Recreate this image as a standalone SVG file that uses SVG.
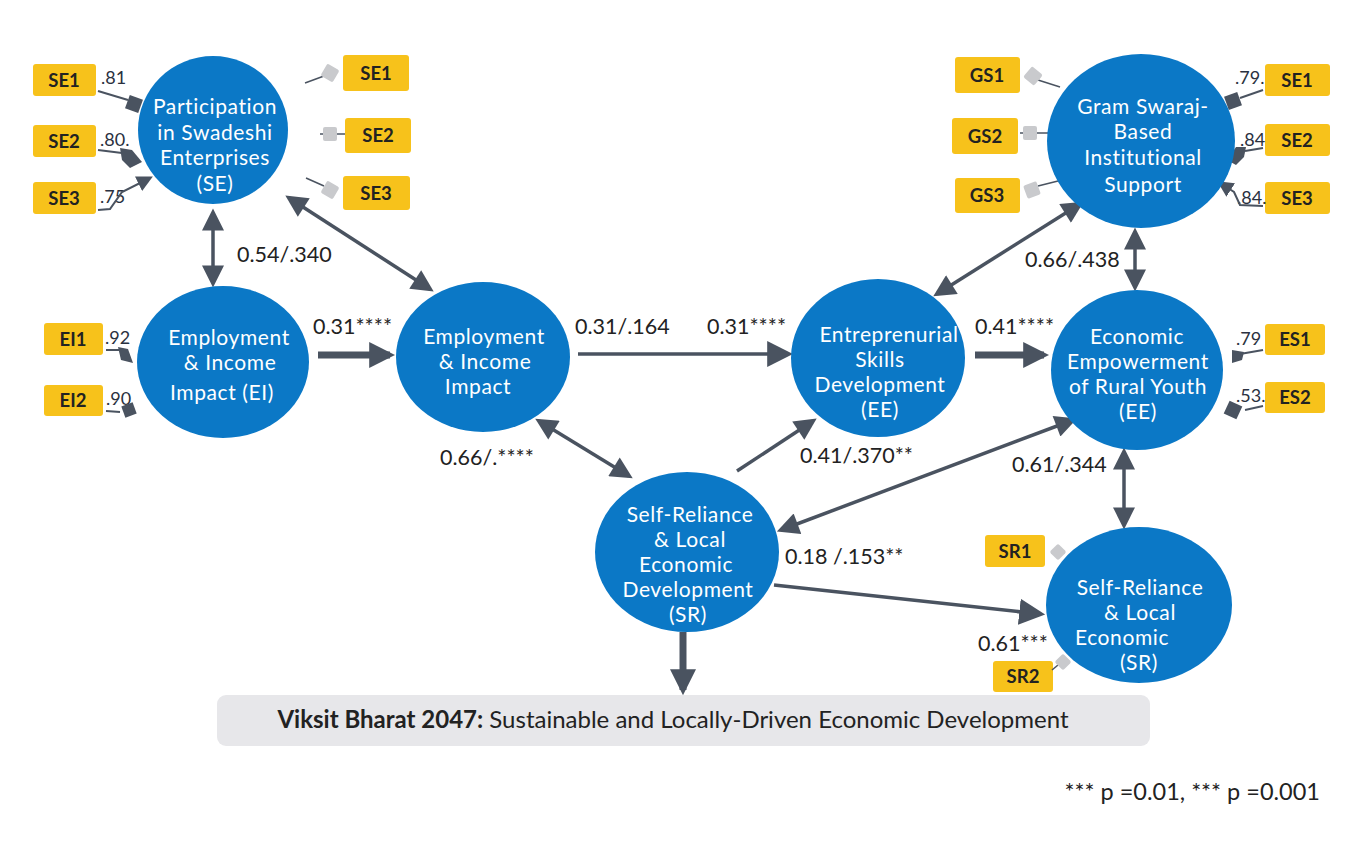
<svg xmlns="http://www.w3.org/2000/svg" width="1363" height="847" viewBox="0 0 1363 847">
<defs>
<style>
.node{fill:#0b78c6}
.nt{font-family:Lato,"Open Sans","Liberation Sans",sans-serif;font-size:21px;letter-spacing:0.6px;fill:#fff;text-anchor:middle}
.box{fill:#f7c21b;rx:3}
.bt{font-family:Lato,"Open Sans","Liberation Sans",sans-serif;font-size:18.5px;font-weight:700;fill:#222;text-anchor:middle}
.ld{font-family:Lato,"Open Sans","Liberation Sans",sans-serif;font-size:18px;fill:#2a3140}
.lb{font-family:Lato,"Open Sans","Liberation Sans",sans-serif;font-size:21.5px;fill:#222}
.a{stroke:#4a5360;stroke-width:3.5;fill:none}
.ta{stroke:#4a5360;stroke-width:7;fill:none}
.ind{stroke:#4a5360;stroke-width:2;fill:none}
.indg{stroke:#4a5360;stroke-width:1.5;fill:none}
.dk{fill:#4a5360}
.lg{fill:#c9cacd}
</style>
<marker id="ah" viewBox="0 0 10 10" refX="8" refY="5" markerWidth="24" markerHeight="22" markerUnits="userSpaceOnUse" orient="auto-start-reverse">
<path d="M0,0 L10,5 L0,10 z" fill="#4a5360"/>
</marker>
<marker id="ahT" viewBox="0 0 10 10" refX="8" refY="5" markerWidth="26" markerHeight="28" markerUnits="userSpaceOnUse" orient="auto-start-reverse">
<path d="M0,0 L10,5 L0,10 z" fill="#4a5360"/>
</marker>
<marker id="ahS" viewBox="0 0 10 10" refX="8" refY="5" markerWidth="16" markerHeight="16" markerUnits="userSpaceOnUse" orient="auto">
<path d="M0,0 L10,5 L0,10 z" fill="#4a5360"/>
</marker>
</defs>
<rect width="1363" height="847" fill="#fff"/>

<g id="connectors">
<line class="a" x1="213" y1="213" x2="213" y2="283" marker-start="url(#ah)" marker-end="url(#ah)"/>
<line class="a" x1="289" y1="198" x2="430" y2="289" marker-start="url(#ah)" marker-end="url(#ah)"/>
<line class="ta" x1="318" y1="355" x2="390" y2="355" marker-end="url(#ahT)"/>
<line class="a" x1="578" y1="354" x2="788" y2="354" marker-end="url(#ahT)"/>
<line class="a" x1="539" y1="421" x2="629" y2="476" marker-start="url(#ah)" marker-end="url(#ah)"/>
<line class="a" x1="737" y1="471" x2="813" y2="421" marker-end="url(#ah)"/>
<line class="a" x1="937" y1="294" x2="1080" y2="204" marker-start="url(#ah)" marker-end="url(#ah)"/>
<line class="ta" x1="975" y1="355" x2="1044" y2="355" marker-end="url(#ahT)"/>
<line class="a" x1="1135" y1="232" x2="1135" y2="287" marker-start="url(#ah)" marker-end="url(#ah)"/>
<line class="a" x1="1073" y1="420" x2="781" y2="530" marker-start="url(#ah)" marker-end="url(#ah)"/>
<line class="a" x1="1124" y1="452" x2="1124" y2="525" marker-start="url(#ah)" marker-end="url(#ah)"/>
<line class="a" x1="774" y1="585" x2="1040" y2="614" marker-end="url(#ahT)"/>
<line class="ta" x1="683" y1="632" x2="683" y2="690" marker-end="url(#ahT)"/>
</g>

<g id="labels">
<text class="lb" x="237" y="262">0.54/.340</text>
<text class="lb" x="313" y="334">0.31****</text>
<text class="lb" x="575" y="334">0.31/.164</text>
<text class="lb" x="707" y="334">0.31****</text>
<text class="lb" x="975" y="334">0.41****</text>
<text class="lb" x="1025" y="267">0.66/.438</text>
<text class="lb" x="440" y="465">0.66/.****</text>
<text class="lb" x="800" y="463">0.41/.370**</text>
<text class="lb" x="1012" y="472">0.61/.344</text>
<text class="lb" x="785" y="564">0.18 /.153**</text>
<text class="lb" x="978" y="651">0.61***</text>
</g>

<g id="indicators">
<!-- SE left -->
<rect class="box" x="33" y="64" width="63" height="32"/><text class="bt" x="64" y="87">SE1</text>
<rect class="box" x="33" y="125" width="63" height="32"/><text class="bt" x="64" y="148">SE2</text>
<rect class="box" x="33" y="182" width="63" height="32"/><text class="bt" x="64" y="205">SE3</text>
<text class="ld" x="101" y="84">.81</text>
<text class="ld" x="100" y="146">.80.</text>
<text class="ld" x="100" y="203">.75</text>
<line class="ind" x1="98" y1="91" x2="128" y2="100"/>
<rect class="dk" x="-7" y="-7" width="14" height="14" transform="translate(134,104) rotate(20)"/>
<line class="ind" x1="98" y1="150" x2="122" y2="153"/>
<path class="dk" d="M120,148 L132,150 L142,162 L130,168 L122,160 z"/>
<polyline class="ind" points="98,210 110,209 122,192 150,178" marker-end="url(#ahS)"/>
<!-- SE right -->
<rect class="box" x="343" y="55" width="66" height="36"/><text class="bt" x="376" y="80">SE1</text>
<rect class="box" x="345" y="118" width="66" height="35"/><text class="bt" x="378" y="142">SE2</text>
<rect class="box" x="343" y="176" width="67" height="34"/><text class="bt" x="376" y="200">SE3</text>
<line class="indg" x1="305" y1="83" x2="324" y2="76"/>
<rect class="lg" x="-7" y="-7" width="14" height="14" rx="2" transform="translate(330,73) rotate(30)"/>
<line class="indg" x1="320" y1="134" x2="345" y2="134"/>
<rect class="lg" x="-7" y="-7" width="14" height="14" rx="2" transform="translate(330,134)"/>
<line class="indg" x1="306" y1="178" x2="324" y2="186"/>
<rect class="lg" x="-7" y="-7" width="14" height="14" rx="2" transform="translate(330,190) rotate(30)"/>
<!-- EI -->
<rect class="box" x="44" y="323" width="59" height="32"/><text class="bt" x="73" y="346">EI1</text>
<rect class="box" x="44" y="385" width="59" height="31"/><text class="bt" x="73" y="407">EI2</text>
<text class="ld" x="105" y="344">.92</text>
<text class="ld" x="106" y="405">.90</text>
<line class="ind" x1="106" y1="350" x2="120" y2="350"/>
<path class="dk" d="M118,347 L128,349 L133,363 L121,360 z"/>
<line class="ind" x1="106" y1="411" x2="120" y2="412"/>
<rect class="dk" x="-6" y="-6" width="12" height="12" transform="translate(129,410) rotate(-20)"/>
<!-- GS -->
<rect class="box" x="955" y="57" width="65" height="36"/><text class="bt" x="987" y="82">GS1</text>
<rect class="box" x="952" y="118" width="66" height="36"/><text class="bt" x="985" y="143">GS2</text>
<rect class="box" x="955" y="178" width="65" height="35"/><text class="bt" x="987" y="202">GS3</text>
<line class="indg" x1="1038" y1="80" x2="1060" y2="87"/>
<rect class="lg" x="-7" y="-7" width="14" height="14" rx="2" transform="translate(1033,76) rotate(40)"/>
<line class="indg" x1="1020" y1="133" x2="1048" y2="133"/>
<rect class="lg" x="-7" y="-7" width="14" height="14" rx="2" transform="translate(1030,133)"/>
<line class="indg" x1="1038" y1="186" x2="1058" y2="181"/>
<rect class="lg" x="-7" y="-7" width="14" height="14" rx="2" transform="translate(1032,190) rotate(-20)"/>
<!-- SE right of GS -->
<rect class="box" x="1265" y="64" width="65" height="32"/><text class="bt" x="1297" y="87">SE1</text>
<rect class="box" x="1265" y="124" width="65" height="32"/><text class="bt" x="1297" y="147">SE2</text>
<rect class="box" x="1265" y="182" width="65" height="32"/><text class="bt" x="1297" y="205">SE3</text>
<text class="ld" x="1235" y="84">.79.</text>
<text class="ld" x="1240" y="146">.84</text>
<text class="ld" x="1237" y="204">.84.</text>
<line class="ind" x1="1263" y1="90" x2="1240" y2="98"/>
<rect class="dk" x="-7" y="-7" width="14" height="14" transform="translate(1233,101) rotate(-20)"/>
<line class="ind" x1="1263" y1="148" x2="1245" y2="151"/>
<path class="dk" d="M1246,147 L1236,147 L1227,160 L1236,165 L1244,157 z"/>
<polyline class="ind" points="1263,206 1240,205 1234,192 1220,183" marker-end="url(#ahS)"/>
<!-- ES -->
<rect class="box" x="1265" y="324" width="60" height="31"/><text class="bt" x="1295" y="346">ES1</text>
<rect class="box" x="1265" y="382" width="60" height="31"/><text class="bt" x="1295" y="404">ES2</text>
<text class="ld" x="1236" y="345">.79</text>
<text class="ld" x="1236" y="402">.53.</text>
<line class="ind" x1="1263" y1="350" x2="1240" y2="354"/>
<path class="dk" d="M1232,350 L1244,352 L1242,360 L1232,363 z"/>
<line class="ind" x1="1263" y1="406" x2="1245" y2="410"/>
<rect class="dk" x="-7" y="-7" width="14" height="14" transform="translate(1233,410) rotate(25)"/>
<!-- SR -->
<rect class="box" x="985" y="535" width="60" height="32"/><text class="bt" x="1015" y="558">SR1</text>
<rect class="box" x="993" y="661" width="60" height="31"/><text class="bt" x="1023" y="683">SR2</text>
<rect class="lg" x="-6" y="-6" width="12" height="12" rx="2" transform="translate(1058,552) rotate(45)"/>
<line class="indg" x1="1052" y1="670" x2="1058" y2="665"/>
<rect class="lg" x="-6" y="-6" width="12" height="12" rx="2" transform="translate(1063,662) rotate(45)"/>
</g>

<g id="node-se"><ellipse class="node" cx="213" cy="130" rx="75" ry="74"/>
<text class="nt" x="215" y="114">Participation</text><text class="nt" x="215" y="140">in Swadeshi</text><text class="nt" x="215" y="165">Enterprises</text><text class="nt" x="215" y="191">(SE)</text></g>
<g id="node-ei"><ellipse class="node" cx="223" cy="362" rx="86" ry="76"/>
<text class="nt" x="229" y="345">Employment</text><text class="nt" x="230" y="370">&amp; Income</text><text class="nt" x="222" y="400">Impact (EI)</text></g>
<g id="node-emp"><ellipse class="node" cx="483" cy="357" rx="87" ry="75"/>
<text class="nt" x="484" y="344">Employment</text><text class="nt" x="485" y="369">&amp; Income</text><text class="nt" x="478" y="394">Impact</text></g>
<g id="node-ent"><ellipse class="node" cx="878" cy="358" rx="87" ry="79"/>
<text class="nt" x="889" y="342">Entreprenurial</text><text class="nt" x="880" y="367">Skills</text><text class="nt" x="880" y="392">Development</text><text class="nt" x="880" y="417">(EE)</text></g>
<g id="node-gs"><ellipse class="node" cx="1141" cy="141" rx="94" ry="87"/>
<text class="nt" x="1143" y="114">Gram Swaraj-</text><text class="nt" x="1143" y="139">Based</text><text class="nt" x="1143" y="165">Institutional</text><text class="nt" x="1143" y="192">Support</text></g>
<g id="node-ee"><ellipse class="node" cx="1137" cy="370" rx="86" ry="80"/>
<text class="nt" x="1137" y="344">Economic</text><text class="nt" x="1138" y="369">Empowerment</text><text class="nt" x="1138" y="394">of Rural Youth</text><text class="nt" x="1138" y="419">(EE)</text></g>
<g id="node-sr1"><ellipse class="node" cx="687" cy="552" rx="92" ry="80"/>
<text class="nt" x="690" y="522">Self-Reliance</text><text class="nt" x="690" y="547">&amp; Local</text><text class="nt" x="686" y="572">Economic</text><text class="nt" x="688" y="597">Development</text><text class="nt" x="688" y="622">(SR)</text></g>
<g id="node-sr2"><ellipse class="node" cx="1139" cy="605" rx="93" ry="78"/>
<text class="nt" x="1140" y="595">Self-Reliance</text><text class="nt" x="1140" y="620">&amp; Local</text><text class="nt" x="1122" y="645">Economic</text><text class="nt" x="1139" y="670">(SR)</text></g>

<g id="banner">
<rect x="217" y="695" width="933" height="51" rx="9" fill="#e7e7ea"/>
<text x="673" y="728" text-anchor="middle" font-family="Lato,'Open Sans','Liberation Sans',sans-serif" font-size="24" fill="#222"><tspan font-weight="700">Viksit Bharat 2047:</tspan> Sustainable and Locally-Driven Economic Development</text>
</g>
<text x="1320" y="800" text-anchor="end" font-family="Lato,'Open Sans','Liberation Sans',sans-serif" font-size="23.5" fill="#222">*** p =0.01,  *** p =0.001</text>
</svg>
